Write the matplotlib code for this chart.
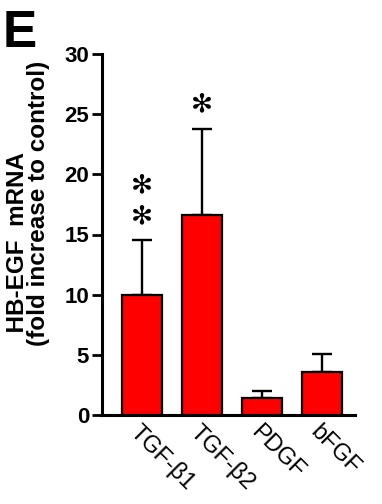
import matplotlib
matplotlib.use("Agg")
import matplotlib.pyplot as plt
import numpy as np

plt.rcParams['font.family'] = ['Liberation Sans', 'DejaVu Sans']

categories = ["TGF-β1", "TGF-β2", "PDGF", "bFGF"]
values = [10.0, 16.6, 1.4, 3.6]
errors_up = [4.55, 7.2, 0.6, 1.43]
n_stars = [2, 1, 0, 0]
yticks = [0, 5, 10, 15, 20, 25, 30]
ylabel_lines = ["HB-EGF  mRNA", "(fold increase to control)"]

W, H = 382, 504
fig = plt.figure(figsize=(W/100, H/100), dpi=100)
ax = fig.add_axes([101.5/W, 1 - 415/H, (355-101.5)/W, (415-54)/H])

x = np.arange(len(categories))
ax.bar(x, values, width=0.667, color='#ff0000', edgecolor='black', linewidth=1.6, zorder=2)
ax.errorbar(x, values, yerr=[np.zeros(len(values)), errors_up], fmt='none',
            ecolor='black', elinewidth=1.7, capsize=7.2, capthick=1.7, zorder=1)

for xi, v, e, k in zip(x, values, errors_up, n_stars):
    for j in range(k):
        ax.text(xi, v + e + 2.0 + 2.5*j, "✻", ha='center', va='center', fontsize=19,
                family=['DejaVu Sans'])

ax.set_xlim(-0.667, 3.55)
ax.set_ylim(0, 30)
ax.set_yticks(yticks)
ax.set_yticklabels([str(t) for t in yticks], fontsize=16, fontweight='bold')
ax.set_xticks(x)
ax.set_xticklabels(categories, rotation=-45, ha='left', va='top',
                   rotation_mode='anchor', fontsize=17)
ax.tick_params(axis='x', length=0, pad=4)
ax.tick_params(axis='y', length=7, width=2.0, pad=2)
for sp in ['top', 'right']:
    ax.spines[sp].set_visible(False)
for sp in ['left', 'bottom']:
    ax.spines[sp].set_linewidth(2.2)

# two-line y label as one text block
fig.text(28/W, 1 - 203/H, "  " + ylabel_lines[0] + "\n" + ylabel_lines[1],
         rotation=90, ha='center', va='center', multialignment='left',
         fontsize=17.5, fontweight='bold', linespacing=0.88)

fig.text(3/W, 1 - 47/H, "E", fontsize=37, fontweight='bold', ha='left', va='baseline')

fig.savefig("out.png", dpi=100)
